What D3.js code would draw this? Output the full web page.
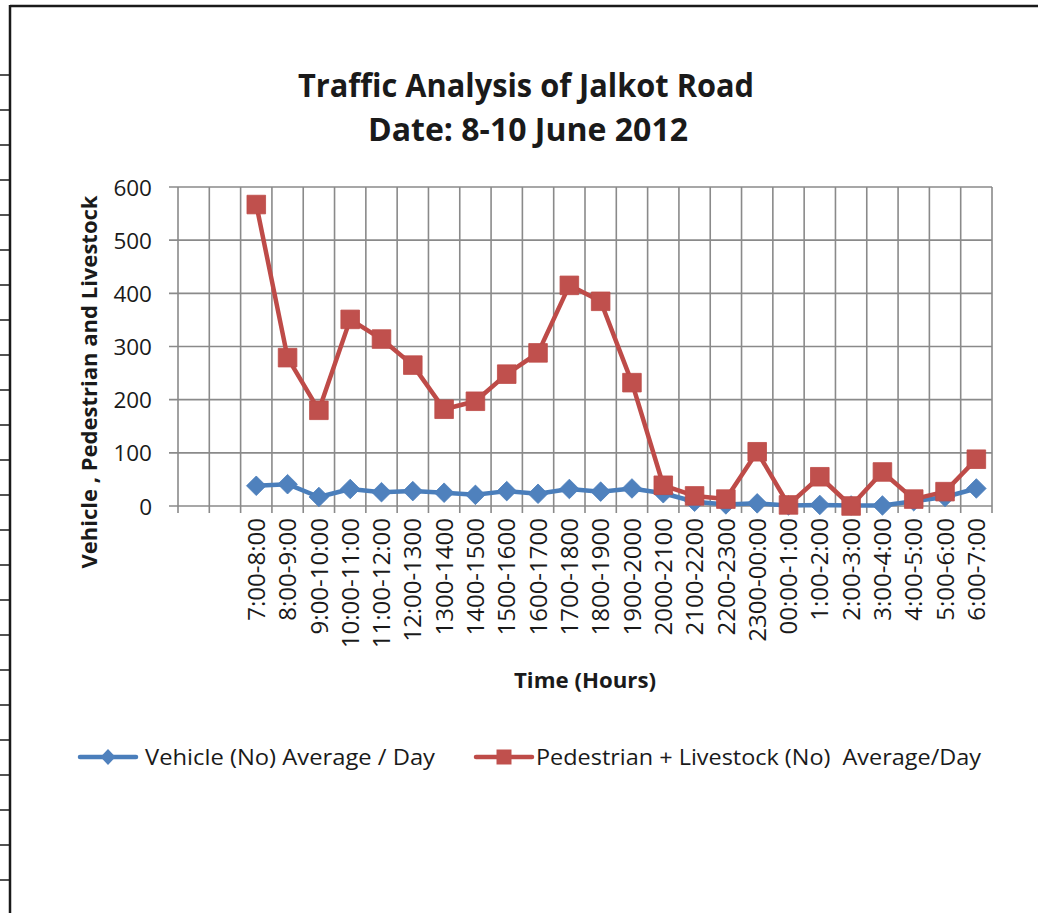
<!DOCTYPE html>
<meta charset="UTF-8">
<style>
body { margin: 0; background: #fff; }
svg { display: block; font-family: "Open Sans", sans-serif; }
.grid line { stroke: #8a8a8a; stroke-width: 1.6px; }
.frame { stroke: #1a1a1a; }
</style>
<svg width="1038" height="913"></svg>
<script src="https://d3js.org/d3.v7.min.js"></script>
<script>
// chart values
var categories = ["7:00-8:00","8:00-9:00","9:00-10:00","10:00-11:00","11:00-12:00","12:00-1300",
  "1300-1400","1400-1500","1500-1600","1600-1700","1700-1800","1800-1900","1900-2000","2000-2100",
  "2100-2200","2200-2300","2300-00:00","00:00-1:00","1:00-2:00","2:00-3:00","3:00-4:00","4:00-5:00",
  "5:00-6:00","6:00-7:00"]
var blankSlots = ["blank1","blank2"]
var vehicle = [38,41,17,32,26,28,25,21,28,23,32,27,33,24,8,3,5,1,2,1,1,9,17,33]
var pedestrian = [567,279,180,351,314,265,182,197,248,288,415,385,232,39,19,13,102,2,55,0,64,13,27,88]
var yTicks = [0,100,200,300,400,500,600]
var seriesNames = ["Vehicle (No) Average / Day","Pedestrian + Livestock (No)  Average/Day"]
var title = ["Traffic Analysis of Jalkot Road","Date: 8-10 June 2012"]
var yTitle = "Vehicle , Pedestrian and Livestock"
var xTitle = "Time (Hours)"

var blue = {line:"#4A7EBB", fill:"#4F81BD"}
var red = {line:"#BE4B48", fill:"#C0504D"}

var svg = d3.select("svg")

// squeeze a text to a given length
function fit(t, w) {
	t.attr("textLength", w).attr("lengthAdjust","spacingAndGlyphs")
}

// page frame like the source document
svg.append("line").attr("class","frame").attr("x1",10).attr("x2",1038).attr("y1",6).attr("y2",6).style("stroke-width",2.5)
svg.append("line").attr("class","frame").attr("x1",10).attr("x2",10).attr("y1",5).attr("y2",913).style("stroke-width",2.5)
svg.append("g").selectAll("line")
	.data(d3.range(75, 913, 35))
	.enter().append("line").attr("class","frame")
	.attr("x1",0).attr("x2",10).attr("y1",d=>d).attr("y2",d=>d)
	.style("stroke-width",1.5)

var margin = {left:178, top:187}
var width = 814, height = 319

var x = d3.scaleBand().domain(blankSlots.concat(categories)).range([0,width]).padding(0)
var y = d3.scaleLinear().domain([0,600]).range([height,0])

var g = svg.append("g").attr("transform","translate(" + margin.left + "," + margin.top + ")")

// grid
var boundaries = x.domain().map(d => x(d)).concat([width])
g.append("g").attr("class","grid").selectAll("line")
	.data(boundaries)
	.enter().append("line")
	.attr("x1",d=>d).attr("x2",d=>d)
	.attr("y1",0).attr("y2",height + 7)
g.append("g").attr("class","grid").selectAll("line")
	.data(yTicks)
	.enter().append("line")
	.attr("x1",-9).attr("x2",width)
	.attr("y1",d=>y(d)).attr("y2",d=>y(d))

// y axis labels
var yAxis = g.append("g").call(d3.axisLeft(y).tickValues(yTicks).tickSize(0).tickPadding(26))
yAxis.select(".domain").remove()
yAxis.selectAll("text").style("font-family","Open Sans").style("font-size","22.5px").style("fill","#1a1a1a").attr("dy","0.36em")

// x tick labels, rotated
g.append("g").selectAll("text")
	.data(categories)
	.enter().append("text")
	.attr("transform", d => "translate(" + (x(d) + x.bandwidth()/2) + "," + (height + 12) + ") rotate(-90)")
	.attr("dy","0.36em")
	.style("text-anchor","end")
	.style("font-size","24px")
	.style("fill","#1a1a1a")
	.text(d => d)

// lines
var line = d3.line().x((d,i) => x(categories[i]) + x.bandwidth()/2).y(d => y(d))

var diamond = "M0,-9.8L9.8,0L0,9.8L-9.8,0Z"
var square = "M-9.3,-9.3H9.3V9.3H-9.3Z"

function drawSeries(values, col, shape) {
	g.append("path").datum(values)
		.attr("d", line)
		.style("fill","none").style("stroke",col.line).style("stroke-width",4.5).style("stroke-linejoin","round")
	g.append("g").selectAll("path")
		.data(values)
		.enter().append("path")
		.attr("d", shape)
		.attr("transform",(d,i) => "translate(" + (x(categories[i]) + x.bandwidth()/2) + "," + y(d) + ")")
		.style("fill",col.fill)
		.style("stroke",col.line).style("stroke-width",0.8)
}
drawSeries(vehicle, blue, diamond)
drawSeries(pedestrian, red, square)

// titles
svg.append("text").attr("x",526).attr("y",97).style("text-anchor","middle")
	.style("font-weight","bold").style("font-size","32px").style("fill","#1a1a1a")
	.text(title[0]).call(fit, 456)
svg.append("text").attr("x",528).attr("y",141).style("text-anchor","middle")
	.style("font-weight","bold").style("font-size","32px").style("fill","#1a1a1a")
	.text(title[1]).call(fit, 320)

svg.append("text").attr("transform","translate(97,382) rotate(-90)").style("text-anchor","middle")
	.style("font-weight","bold").style("font-size","21px").style("fill","#1a1a1a")
	.text(yTitle).call(fit, 373)

svg.append("text").attr("x",585).attr("y",688).style("text-anchor","middle")
	.style("font-weight","bold").style("font-size","22px").style("fill","#1a1a1a")
	.text(xTitle).call(fit, 142)

// legend
var legend = [
	{name: seriesNames[0], col: blue, x0: 80, x1: 136, tx: 145, w: 290, shape: "M0,-8L7.5,0L0,8L-7.5,0Z"},
	{name: seriesNames[1], col: red, x0: 476, x1: 532, tx: 536, w: 445, shape: "M-7.5,-7.5H7.5V7.5H-7.5Z"}
]
var lg = svg.append("g").selectAll("g").data(legend).enter().append("g")
lg.append("line")
	.attr("x1",d=>d.x0).attr("x2",d=>d.x1).attr("y1",757).attr("y2",757)
	.style("stroke",d=>d.col.line).style("stroke-width",4.5).style("stroke-linecap","round")
lg.append("path")
	.attr("d",d=>d.shape)
	.attr("transform",d=>"translate(" + (d.x0 + d.x1)/2 + ",757)")
	.style("fill",d=>d.col.fill)
lg.append("text")
	.attr("x",d=>d.tx).attr("y",765)
	.style("font-size","22px").style("fill","#1a1a1a")
	.style("white-space","pre")
	.text(d=>d.name)
	.each(function(d){ d3.select(this).call(fit, d.w) })
</script>
